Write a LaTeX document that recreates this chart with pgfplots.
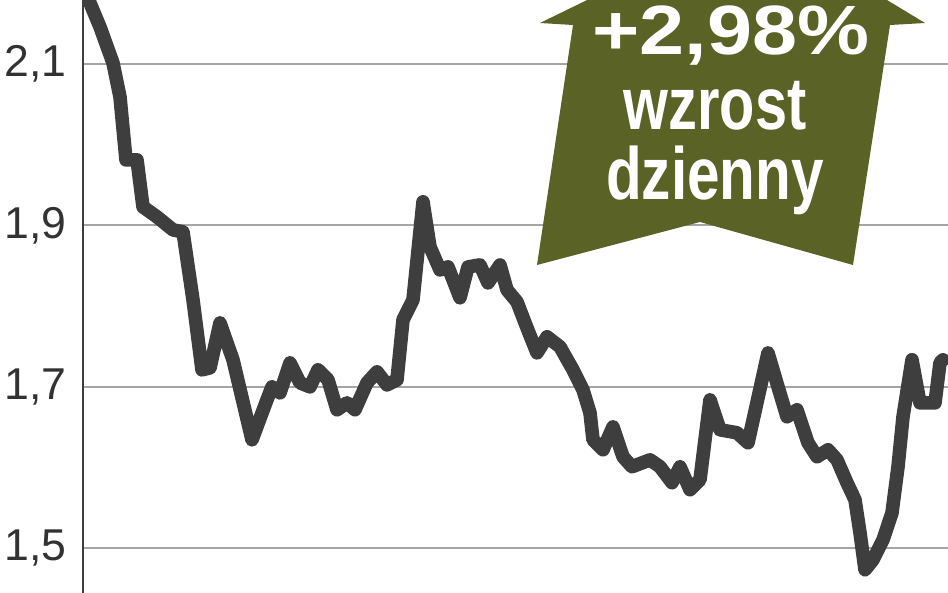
\documentclass[border=0pt]{standalone}
\usepackage{fontspec}
\setmainfont{Liberation Sans}
\usepackage{pgfplots}
\pgfplotsset{compat=1.18}
\definecolor{linegray}{RGB}{62,62,62}
\definecolor{gridgray}{RGB}{165,165,165}
\definecolor{olive}{RGB}{90,98,38}
\definecolor{labelgray}{RGB}{50,50,50}
\begin{document}
\begin{tikzpicture}[x=0.5pt,y=-0.5pt]
\clip (0,0) rectangle (948,593);
\begin{axis}[
  at={(41.5pt,-296.5pt)}, anchor=south west,
  scale only axis, width=432.5pt, height=296.5pt,
  xmin=83, xmax=948, ymin=1.4446, ymax=2.1793,
  axis x line=none, axis y line*=left,
  y axis line style={draw=linegray, line width=1pt},
  ytick={1.5,1.7,1.9,2.1},
  yticklabels={{1,5},{1,7},{1,9},{2,1}},
  major tick length=0pt,
  ymajorgrids, grid style={draw=gridgray, line width=1pt},
  yticklabel style={anchor=east, inner sep=0pt, xshift=-8pt,
    font=\fontsize{22.3}{24}\selectfont, text=labelgray},
  clip=true,
]
\addplot[linegray, line width=6.8pt, line join=round, line cap=round] coordinates {
(86,2.19) (90,2.1756) (100,2.1459) (113,2.1013) (120,2.0592) (126,1.9812) (137,1.9812)
(143,1.9230) (157,1.9106) (173,1.8945) (183,1.8920) (193,1.8078) (202,1.7211) (210,1.7236)
(220,1.7793) (233,1.7335) (252,1.6344) (267,1.6840) (272,1.7000) (280,1.6926) (290,1.7298)
(300,1.7050) (310,1.7000) (318,1.7211) (328,1.7087) (337,1.6716) (347,1.6802) (355,1.6716)
(367,1.7050) (377,1.7186) (387,1.7025) (397,1.7087) (403,1.7830) (413,1.8078) (423,1.9292)
(430,1.8734) (440,1.8449) (448,1.8486) (460,1.8103) (468,1.8486) (480,1.8511) (488,1.8288)
(500,1.8511) (507,1.8202) (517,1.8053) (527,1.7731) (537,1.7421) (547,1.7620) (560,1.7496)
(573,1.7211) (583,1.6963) (590,1.6678) (593,1.6344) (603,1.6220) (613,1.6505) (623,1.6134)
(632,1.6010) (650,1.6096) (660,1.6010) (672,1.5812) (680,1.6010) (690,1.5725) (700,1.5849)
(710,1.6840) (720,1.6468) (737,1.6431) (748,1.6307) (768,1.7421) (778,1.7000) (787,1.6629)
(797,1.6716) (808,1.6307) (817,1.6134) (828,1.6220) (837,1.6096) (847,1.5812) (855,1.5601)
(860,1.5192) (865,1.4734) (873,1.4858) (883,1.5106) (892,1.5440) (898,1.6010) (903,1.6629)
(912,1.7335) (917,1.7000) (920,1.6802) (935,1.6802) (940,1.7298) (943,1.7335)
};
\end{axis}
\fill[olive] (540,23) -- (753,-81) -- (925,23) -- (890,25) -- (853,265) -- (700,222)
  -- (537,265) -- (573,25) -- cycle;
\node[anchor=base, text=white, inner sep=0pt] at (731,55)
  {\scalebox{1.16}[1]{\fontsize{34.9}{36}\selectfont\bfseries +2,98\%}};
\node[anchor=base, text=white, inner sep=0pt] at (715,130)
  {\scalebox{0.78}[1]{\fontsize{37}{40}\selectfont\bfseries wzrost}};
\node[anchor=base, text=white, inner sep=0pt] at (715,200)
  {\scalebox{0.79}[1]{\fontsize{37}{40}\selectfont\bfseries dzienny}};
\end{tikzpicture}
\end{document}
